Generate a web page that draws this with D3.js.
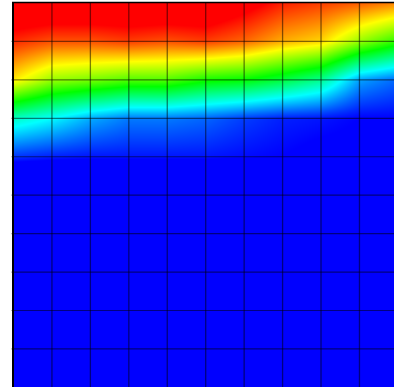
<!DOCTYPE html>
<html>
<head>
<meta charset="utf-8">
<script src="https://cdn.jsdelivr.net/npm/d3@7"></script>
<style>
  body { margin: 0; background: #fff; overflow: hidden; }
  svg { display: block; }
</style>
</head>
<body>
<div id="chart"></div>
<script>
// node values on the grid intersections, top row first (11 columns x 11 rows)
const row0  = [110, 110, 110, 110, 110, 110, 104, 97, 94, 91, 87];
const row1  = [96, 92, 92, 94, 92, 94, 90, 83, 79, 65, 54];
const row2  = [77, 65, 62, 58, 58, 52, 50, 44, 36, 16, 10];
const row3  = [31, 25, 17, 12, 12, 10, 6, 3, 2, 0, 0];
const row4  = [5, 3, 2, 2, 2, 2, 1, 0, -2, -2, -2];
const row5  = [-30, -30, -30, -30, -30, -30, -30, -30, -30, -30, -30];
const row6  = [-30, -30, -30, -30, -30, -30, -30, -30, -30, -30, -30];
const row7  = [-30, -30, -30, -30, -30, -30, -30, -30, -30, -30, -30];
const row8  = [-30, -30, -30, -30, -30, -30, -30, -30, -30, -30, -30];
const row9  = [-30, -30, -30, -30, -30, -30, -30, -30, -30, -30, -30];
const row10 = [-30, -30, -30, -30, -30, -30, -30, -30, -30, -30, -30];
const rows = [row0, row1, row2, row3, row4, row5, row6, row7, row8, row9, row10];

const colorStops = [0, 25, 50, 75, 100];
const colorRange = ["#0000ff", "#00ffff", "#00ff00", "#ffff00", "#ff0000"];

const width = 394, height = 387;
const marginLeft = 13.5, marginTop = 3, cell = 38.44;
const nCols = row0.length - 1, nRows = rows.length - 1;

const x = d3.scaleLinear().domain([0, nCols]).range([marginLeft, marginLeft + nCols * cell]);
const y = d3.scaleLinear().domain([0, nRows]).range([marginTop, marginTop + nRows * cell]);
const color = d3.scaleLinear().domain(colorStops).range(colorRange).clamp(true);

const svg = d3.select("#chart").append("svg")
  .attr("width", width)
  .attr("height", height);

// paint the interpolated field into a canvas, then put it in the svg
const cw = Math.ceil(nCols * cell), ch = Math.ceil(nRows * cell);
const canvas = document.createElement("canvas");
canvas.width = cw;
canvas.height = ch;
const ctx = canvas.getContext("2d");
const img = ctx.createImageData(cw, ch);

for (let py = 0; py < ch; py++) {
  const v = Math.max(0, Math.min(nRows, y.invert(marginTop + py + 0.5)));
  const j = Math.min(Math.floor(v), nRows - 1), fv = v - j;
  for (let px = 0; px < cw; px++) {
    const u = Math.max(0, Math.min(nCols, x.invert(marginLeft + px + 0.5)));
    const i = Math.min(Math.floor(u), nCols - 1), fu = u - i;
    const a = rows[j][i] * (1 - fu) + rows[j][i + 1] * fu;
    const b = rows[j + 1][i] * (1 - fu) + rows[j + 1][i + 1] * fu;
    const c = d3.rgb(color(a * (1 - fv) + b * fv));
    const k = (py * cw + px) * 4;
    img.data[k] = c.r;
    img.data[k + 1] = c.g;
    img.data[k + 2] = c.b;
    img.data[k + 3] = 255;
  }
}
ctx.putImageData(img, 0, 0);

svg.append("image")
  .attr("x", marginLeft)
  .attr("y", marginTop)
  .attr("width", cw)
  .attr("height", ch)
  .attr("href", canvas.toDataURL());

// grid
svg.append("g")
  .selectAll("line")
  .data(d3.range(1, nCols))
  .join("line")
  .attr("x1", d => x(d)).attr("x2", d => x(d))
  .attr("y1", marginTop).attr("y2", marginTop + ch)
  .attr("stroke", "#000")
  .attr("stroke-opacity", 0.5)
  .attr("stroke-width", 1.3);

svg.append("g")
  .selectAll("line")
  .data(d3.range(1, nRows))
  .join("line")
  .attr("x1", marginLeft - 2).attr("x2", marginLeft + cw)
  .attr("y1", d => y(d)).attr("y2", d => y(d))
  .attr("stroke", "#000")
  .attr("stroke-opacity", 0.5)
  .attr("stroke-width", 1.2);

// frame: left and top edges
svg.append("line")
  .attr("x1", 13).attr("x2", 13)
  .attr("y1", 2).attr("y2", height)
  .attr("stroke", "#000")
  .attr("stroke-width", 2);

svg.append("line")
  .attr("x1", 12).attr("x2", width)
  .attr("y1", 2.5).attr("y2", 2.5)
  .attr("stroke", "#000")
  .attr("stroke-width", 1.5);
</script>
</body>
</html>
